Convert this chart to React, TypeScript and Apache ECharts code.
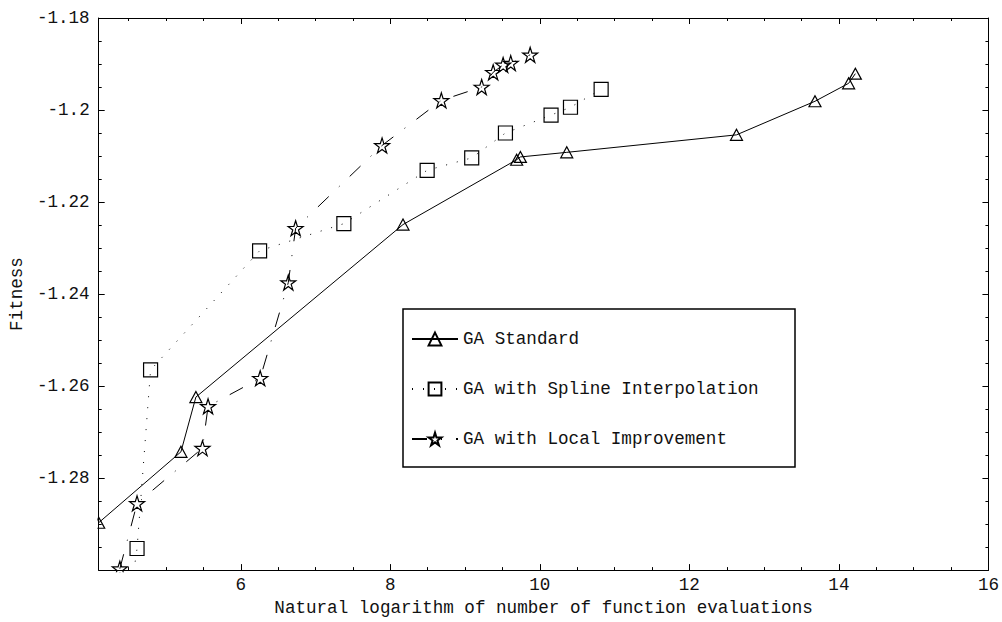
import React, { useEffect, useRef } from "react";
import * as echarts from "echarts";

const seriesNames = ["GA Standard", "GA with Spline Interpolation", "GA with Local Improvement"];

const standardX = [4.1, 5.2, 5.4, 8.17, 9.69, 9.74, 10.36, 12.63, 13.68, 14.13, 14.22];
const standardY = [-1.2897, -1.2743, -1.2624, -1.2249, -1.2108, -1.2102, -1.2092, -1.2054, -1.1981, -1.1942, -1.1921];

const splineX = [4.485, 4.613, 4.794, 6.252, 7.379, 8.493, 9.089, 9.54, 10.15, 10.41, 10.82];
const splineY = [-1.31, -1.2953, -1.2565, -1.2306, -1.2247, -1.2131, -1.2104, -1.205, -1.2011, -1.1994, -1.1955];

const localX = [4.383, 4.613, 5.488, 5.563, 6.26, 6.636, 6.734, 7.89, 8.683, 9.222, 9.376, 9.509, 9.611, 9.871];
const localY = [-1.2997, -1.2855, -1.2735, -1.2644, -1.2583, -1.2375, -1.2257, -1.2077, -1.1979, -1.195, -1.1918, -1.1902, -1.1898, -1.188];

const X_MIN = 4.1;
const X_MAX = 16;
const Y_MIN = -1.3;
const Y_MAX = -1.18;

const xName = "Natural logarithm of number of function evaluations";
const yName = "Fitness";

const FONT = "'Liberation Mono', 'DejaVu Sans Mono', monospace";
const BLACK = "#000";
const STAR =
  "path://M10,0L12.245,6.91L19.511,6.91L13.633,11.18L15.878,18.09L10,13.82L4.122,18.09L6.367,11.18L0.489,6.91L7.755,6.91Z";

function pairs(xs: number[], ys: number[]) {
  return xs.map((x, i) => [x, ys[i]]);
}

export default function App() {
  const ref = useRef<HTMLDivElement>(null);

  useEffect(() => {
    if (!ref.current) return;
    const chart = echarts.init(ref.current, undefined, { renderer: "svg" });

    const lineAxis = { show: true, onZero: false, lineStyle: { color: BLACK, width: 1 } };
    const textBase = { fontFamily: FONT, fontSize: 17.6, color: "#111" };

    const xMajor = (pos: string, labels: boolean) => ({
      type: "value",
      position: pos,
      min: X_MIN,
      max: X_MAX,
      splitNumber: 6,
      minInterval: 2,
      maxInterval: 2,
      axisLine: lineAxis,
      axisTick: { show: true, inside: true, length: 6, lineStyle: { color: BLACK, width: 1 } },
      axisLabel: labels
        ? { show: true, margin: 6, showMinLabel: false, ...textBase }
        : { show: false },
      splitLine: { show: false },
      ...(labels
        ? {
            name: xName,
            nameLocation: "middle",
            nameGap: 28,
            nameTextStyle: { ...textBase },
          }
        : {}),
    });
    const xMinor = (pos: string) => ({
      type: "value",
      position: pos,
      min: X_MIN,
      max: X_MAX,
      splitNumber: 24,
      minInterval: 0.5,
      maxInterval: 0.5,
      axisLine: { show: false, onZero: false },
      axisTick: { show: true, inside: true, length: 3, lineStyle: { color: BLACK, width: 1 } },
      axisLabel: { show: false },
      splitLine: { show: false },
    });
    const yAxisDef = (pos: string, labels: boolean) => ({
      type: "value",
      position: pos,
      min: Y_MIN,
      max: Y_MAX,
      interval: 0.02,
      axisLine: lineAxis,
      axisTick: { show: true, inside: true, length: 6, lineStyle: { color: BLACK, width: 1 } },
      minorTick: { show: true, splitNumber: 4, length: 3, lineStyle: { color: BLACK, width: 1 } },
      axisLabel: labels
        ? {
            show: true,
            margin: 9,
            showMinLabel: false,
            formatter: (v: number) => String(Number(v.toFixed(2))),
            ...textBase,
          }
        : { show: false },
      splitLine: { show: false },
      minorSplitLine: { show: false },
      ...(labels
        ? {
            name: yName,
            nameLocation: "middle",
            nameGap: 72,
            nameRotate: 90,
            nameTextStyle: { ...textBase },
          }
        : {}),
    });

    const markerStyle = { color: "rgba(0,0,0,0)", borderColor: BLACK, borderWidth: 1.2 };

    const option: any = {
      animation: false,
      backgroundColor: "#fff",
      grid: { left: 98, right: 9, top: 18, bottom: 50, containLabel: false },
      xAxis: [xMajor("bottom", true), xMajor("top", false), xMinor("bottom"), xMinor("top")],
      yAxis: [yAxisDef("left", true), yAxisDef("right", false)],
      legend: {
        show: true,
        orient: "vertical",
        left: 411,
        top: 330,
        padding: 0,
        itemGap: 32,
        itemWidth: 46,
        itemHeight: 16,
        selectedMode: false,
        textStyle: { ...textBase, lineHeight: 18 },
        data: seriesNames,
      },
      graphic: [
        {
          type: "rect",
          z: 3,
          shape: { x: 403, y: 309, width: 392, height: 158 },
          style: { fill: "#fff", stroke: BLACK, lineWidth: 1.5 },
        },
        // masks so that markers sitting on the frame look clipped, as in the reference
        {
          type: "rect",
          z: 50,
          shape: { x: 84, y: 512, width: 13.4, height: 24 },
          style: { fill: "#fff" },
        },
        {
          type: "rect",
          z: 50,
          shape: { x: 100, y: 572.3, width: 40, height: 9 },
          style: { fill: "#fff" },
        },
      ],
      series: [
        {
          name: seriesNames[0],
          type: "line",
          xAxisIndex: 0,
          yAxisIndex: 0,
          data: pairs(standardX, standardY),
          symbol: "triangle",
          symbolSize: [12, 11],
          lineStyle: { color: BLACK, width: 1, type: "solid" },
          itemStyle: markerStyle,
          clip: true,
        },
        {
          name: seriesNames[1],
          type: "line",
          xAxisIndex: 0,
          yAxisIndex: 0,
          data: pairs(splineX, splineY),
          symbol: "rect",
          symbolSize: 14,
          lineStyle: { color: BLACK, width: 1, type: [1, 10] },
          itemStyle: markerStyle,
          clip: true,
        },
        {
          name: seriesNames[2],
          type: "line",
          xAxisIndex: 0,
          yAxisIndex: 0,
          data: pairs(localX, localY),
          symbol: STAR,
          symbolSize: 15,
          lineStyle: { color: BLACK, width: 1, type: [15, 14, 1, 14] },
          itemStyle: markerStyle,
          clip: true,
        },
      ],
    };

    chart.setOption(option);
    return () => chart.dispose();
  }, []);

  return (
    <div
      ref={ref}
      style={{ position: "fixed", left: 0, top: 0, width: 1002, height: 622, background: "#fff" }}
    />
  );
}
